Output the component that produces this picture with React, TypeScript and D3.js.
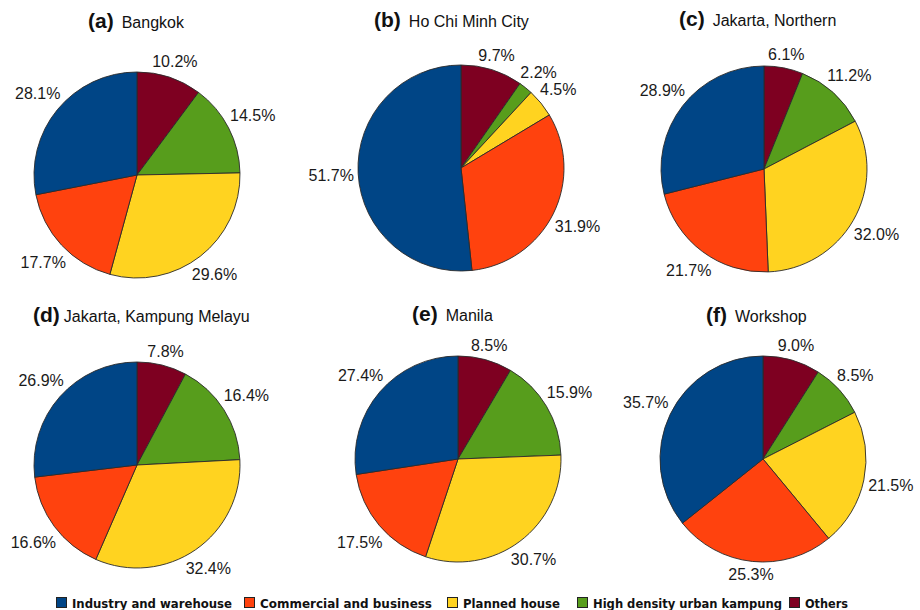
import React from "react";
import * as d3 from "d3";

const categories = [
  "Industry and warehouse",
  "Commercial and business",
  "Planned house",
  "High density urban kampung",
  "Others",
];
const panelLetters = ["(a)", "(b)", "(c)", "(d)", "(e)", "(f)"];
const cities = [
  "Bangkok",
  "Ho Chi Minh City",
  "Jakarta, Northern",
  "Jakarta, Kampung Melayu",
  "Manila",
  "Workshop",
];
const industry = [28.1, 51.7, 28.9, 26.9, 27.4, 35.7];
const commercial = [17.7, 31.9, 21.7, 16.6, 17.5, 25.3];
const planned = [29.6, 4.5, 32.0, 32.4, 30.7, 21.5];
const highDensity = [14.5, 2.2, 11.2, 16.4, 15.9, 8.5];
const others = [10.2, 9.7, 6.1, 7.8, 8.5, 9.0];

const colors = ["#004586", "#ff420e", "#ffd320", "#579d1c", "#7e0021"];

// layout
const centers = [
  [137, 175],
  [461, 168],
  [764, 169],
  [137, 465],
  [458, 459],
  [763, 459],
];
const R = 103;
const titlePos = [
  [88, 28],
  [374, 27],
  [679, 26],
  [33, 322],
  [412, 321],
  [706, 322],
];
const legendX = [56, 244, 447, 577, 789];
const legendTextW = [160, 172, 97, 189, 43];
const legendY = 603;

const charW = (s: string, fs: number) => {
  let w = 0;
  for (const c of s) {
    if (c === ".") w += 0.278;
    else if (c === "%") w += 0.889;
    else w += 0.556;
  }
  return w * fs;
};

const labelFs = 16;

function Pie({ i }: { i: number }) {
  const [cx, cy] = centers[i];
  // clockwise from 12 o'clock: Others, High density, Planned, Commercial, Industry
  const order = [4, 3, 2, 1, 0];
  const vals = [industry[i], commercial[i], planned[i], highDensity[i], others[i]];
  const data = order.map((k) => ({ k, v: vals[k] }));
  const pie = d3
    .pie<{ k: number; v: number }>()
    .sort(null)
    .value((d) => d.v)
    .startAngle(0)
    .endAngle(2 * Math.PI);
  const arcs = pie(data);
  const arc = d3
    .arc<d3.PieArcDatum<{ k: number; v: number }>>()
    .innerRadius(0)
    .outerRadius(R);
  return (
    <g transform={`translate(${cx},${cy})`}>
      {arcs.map((a, j) => (
        <path
          key={j}
          d={arc(a) || ""}
          fill={colors[a.data.k]}
          stroke="#2a2a2a"
          strokeWidth={0.9}
          strokeLinejoin="round"
        />
      ))}
      {arcs.map((a, j) => {
        const mid = (a.startAngle + a.endAngle) / 2;
        const s = Math.sin(mid);
        const c = Math.cos(mid);
        const txt = a.data.v.toFixed(1) + "%";
        const hw = charW(txt, labelFs) / 2;
        const hh = 6.5;
        const dist = R + 4 + hw * Math.abs(s) + hh * Math.abs(c);
        const x = s * dist;
        const y = -c * dist;
        return (
          <text
            key={"l" + j}
            x={x}
            y={y}
            dy="0.36em"
            textAnchor="middle"
            fontFamily="'Liberation Sans', Arial, sans-serif"
            fontSize={labelFs}
            fill="#1a1a1a"
          >
            {txt}
          </text>
        );
      })}
    </g>
  );
}

export default function App() {
  return (
    <svg
      width={920}
      height={610}
      style={{ position: "absolute", left: 0, top: 0, background: "#fff" }}
    >
      <rect x={0} y={0} width={920} height={610} fill="#fff" />
      {cities.map((c, i) => (
        <g key={i}>
          <Pie i={i} />
          <text
            x={titlePos[i][0]}
            y={titlePos[i][1]}
            fontFamily="'Liberation Sans', Arial, sans-serif"
            fill="#111"
          >
            <tspan fontWeight="bold" fontSize={21}>
              {panelLetters[i]}
            </tspan>
            <tspan fontSize={16} dx={i === 3 ? 4 : 8}>
              {c}
            </tspan>
          </text>
        </g>
      ))}
      {categories.map((c, k) => (
        <g key={"lg" + k}>
          <rect
            x={legendX[k] + 0.5}
            y={legendY - 5.5}
            width={10}
            height={10}
            fill={colors[k]}
            stroke="#222"
            strokeWidth={1}
          />
          <text
            x={legendX[k] + 16}
            y={legendY}
            dy="0.36em"
            fontFamily="'DejaVu Sans Condensed', 'DejaVu Sans', sans-serif"
            fontWeight="bold"
            fontSize={13}
            fill="#111"
            textLength={legendTextW[k]}
            lengthAdjust="spacingAndGlyphs"
          >
            {c}
          </text>
        </g>
      ))}
    </svg>
  );
}
